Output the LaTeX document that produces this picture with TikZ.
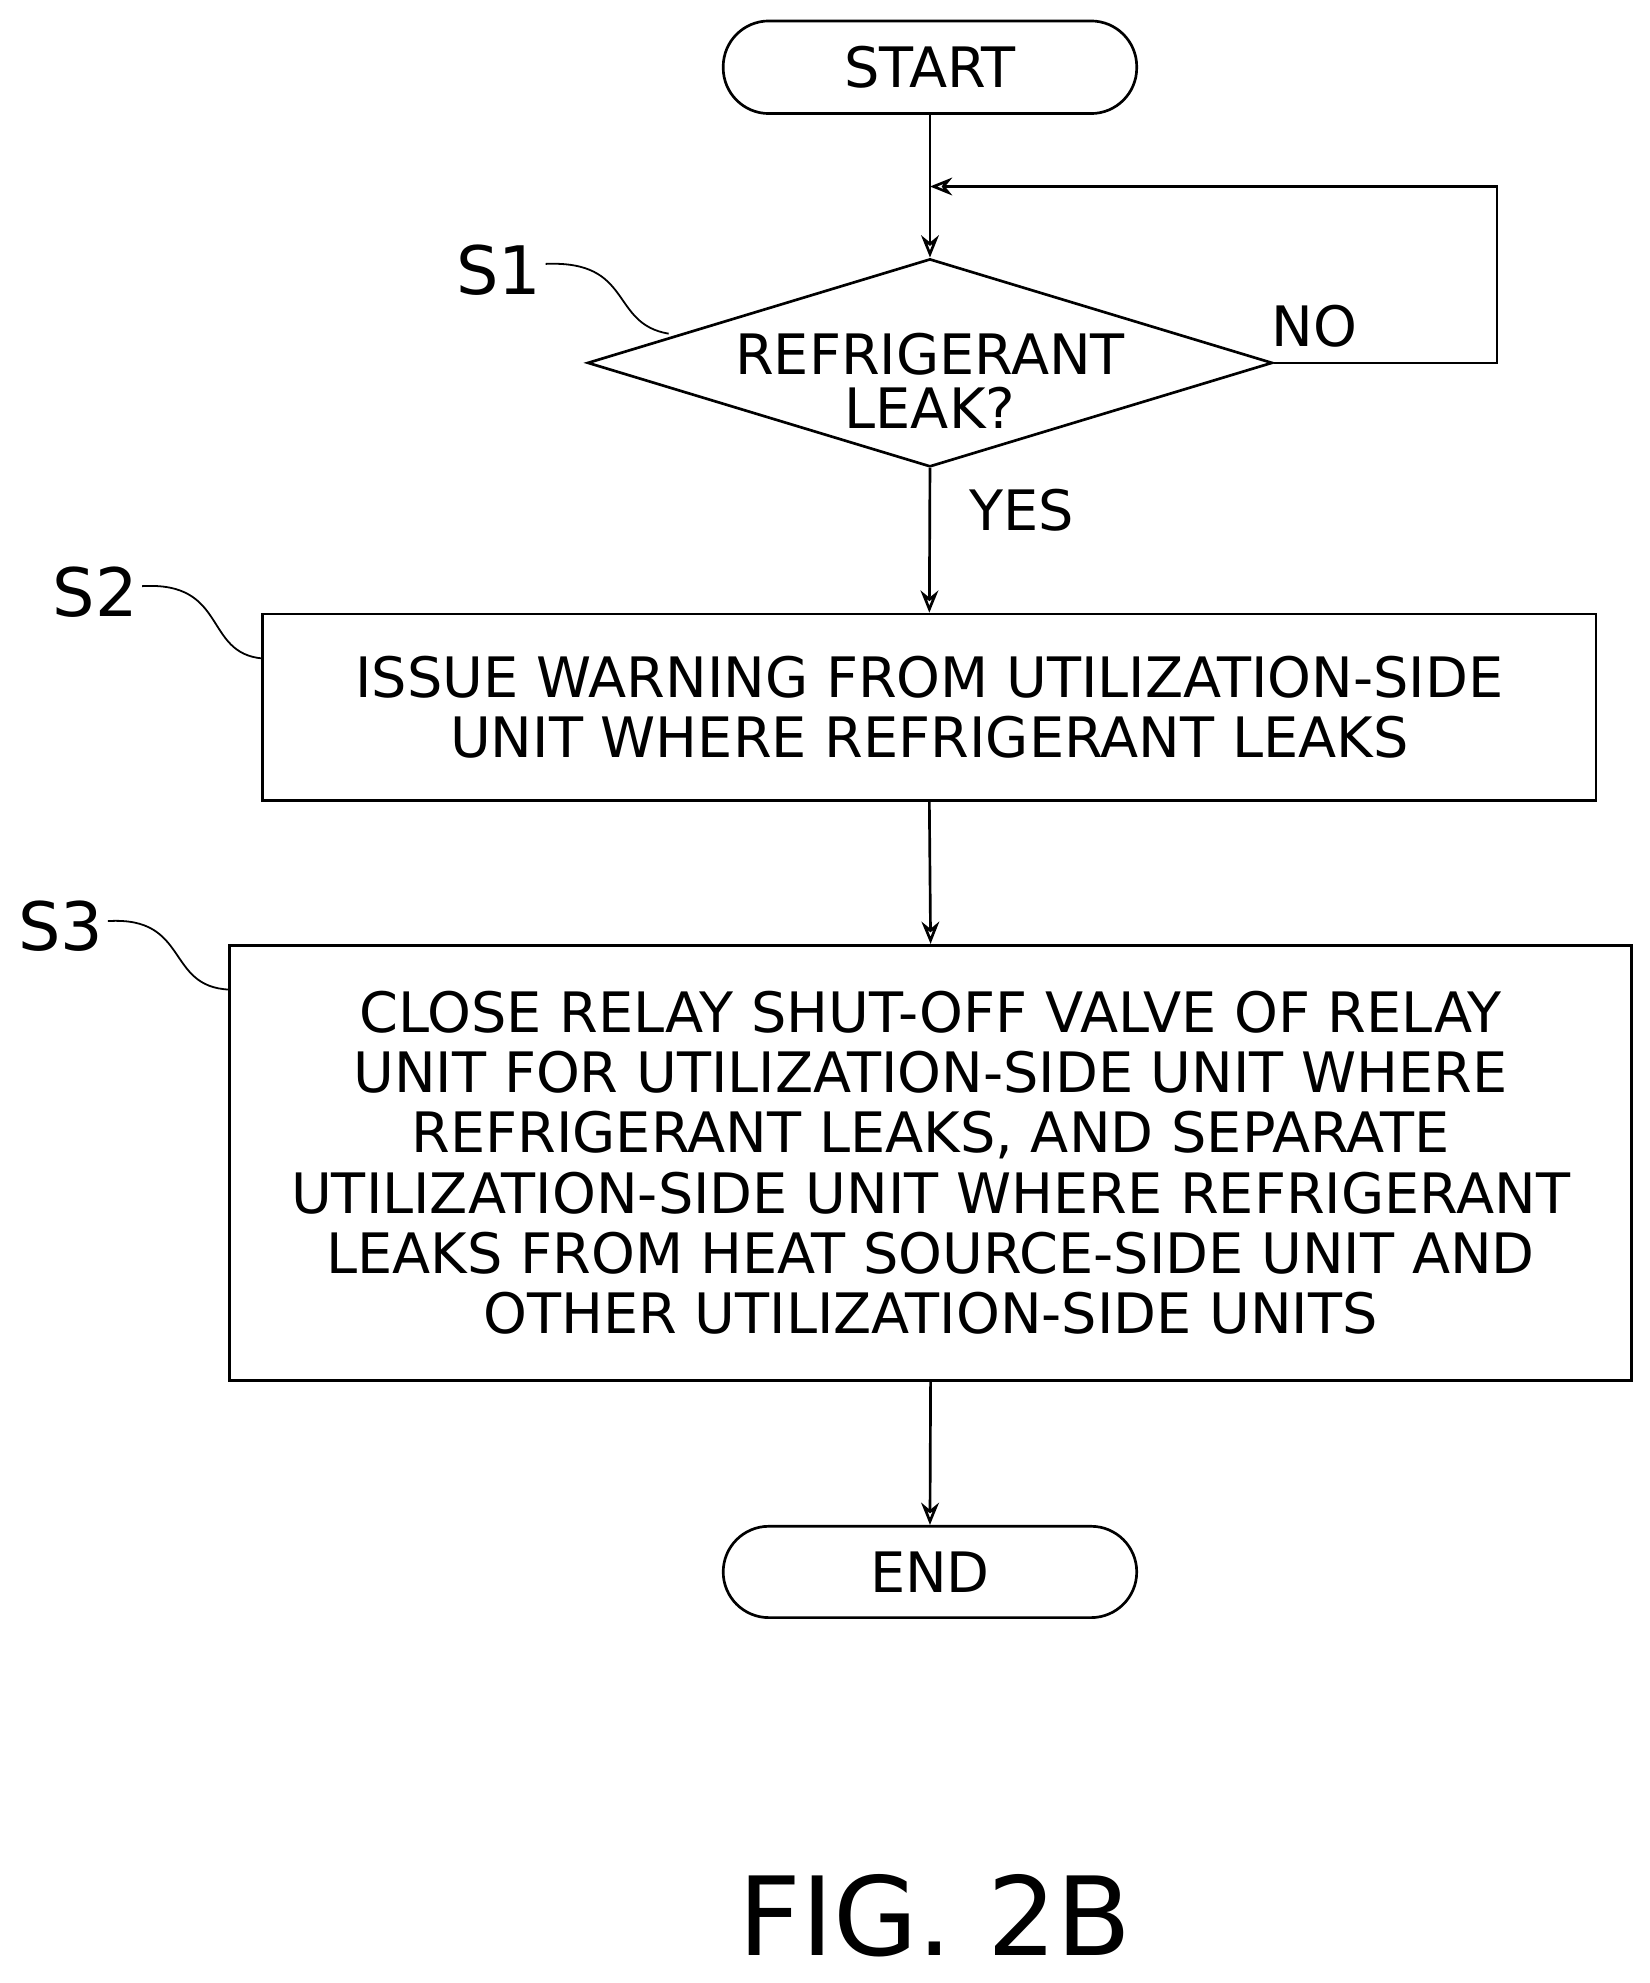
\documentclass[tikz,border=0pt]{standalone}
\usepackage{fontspec}
\setmainfont{DejaVu Sans}
\usetikzlibrary{shapes.geometric,arrows.meta}
\begin{document}
\begin{tikzpicture}[x=0.02cm,y=-0.02cm,line width=1.2pt,
  txt/.style={font=\fontsize{25}{27}\selectfont,align=center},
  arr/.style={-{Stealth[length=10pt,width=8pt,open]}},
  lab/.style={font=\fontsize{30}{30}\selectfont}]
\useasboundingbox (0,0) rectangle (1300,1563);
\node[draw,rounded corners=0.72cm,minimum width=6.52cm,minimum height=1.46cm,txt] (start) at (733,53) {START};
\node[draw,diamond,aspect=3.3,minimum width=10.8cm,minimum height=3.28cm,inner sep=0pt,txt] (d) at (733,286) {};
\node[txt,font=\fontsize{25}{24}\selectfont] at (733,300) {REFRIGERANT\\LEAK?};
\node[draw,minimum width=21.02cm,minimum height=2.94cm,txt] (s2) at (732.5,557.5) {ISSUE WARNING FROM UTILIZATION-SIDE\\UNIT WHERE REFRIGERANT LEAKS};
\node[draw,minimum width=22.1cm,minimum height=6.86cm,txt] (s3) at (733.5,916.5) {CLOSE RELAY SHUT-OFF VALVE OF RELAY\\UNIT FOR UTILIZATION-SIDE UNIT WHERE\\REFRIGERANT LEAKS, AND SEPARATE\\UTILIZATION-SIDE UNIT WHERE REFRIGERANT\\LEAKS FROM HEAT SOURCE-SIDE UNIT AND\\OTHER UTILIZATION-SIDE UNITS};
\node[draw,rounded corners=0.72cm,minimum width=6.52cm,minimum height=1.44cm,txt] (end) at (733,1239) {END};
\coordinate (j) at (733,147);
\coordinate (r) at (1180,286);
\draw (start.south) -- (j);
\draw[arr] (j) -- (d.north);
\draw[arr] (d.east) -- (r) -- (1180,147) -- (j);
\draw[arr] (d.south) -- (s2.north);
\draw[arr] (s2.south) -- (s3.north);
\draw[arr] (s3.south) -- (end.north);
\node[txt] at (1036,257) {NO};
\node[txt] at (805,402) {YES};
\node[lab] (l1) at (393,213) {S1};
\node[lab] (l2) at (75,467) {S2};
\node[lab] (l3) at (48,730) {S3};
\draw[line width=0.8pt] (430,208) .. controls (500,205) and (480,255) .. (527,263);
\draw[line width=0.8pt] (112,462) .. controls (180,458) and (160,515) .. (207,519);
\draw[line width=0.8pt] (85,726) .. controls (150,722) and (130,778) .. (181,780);
\node[font=\fontsize{49}{49}\selectfont] (fig) at (737,1510) {FIG. 2B};
\end{tikzpicture}
\end{document}
